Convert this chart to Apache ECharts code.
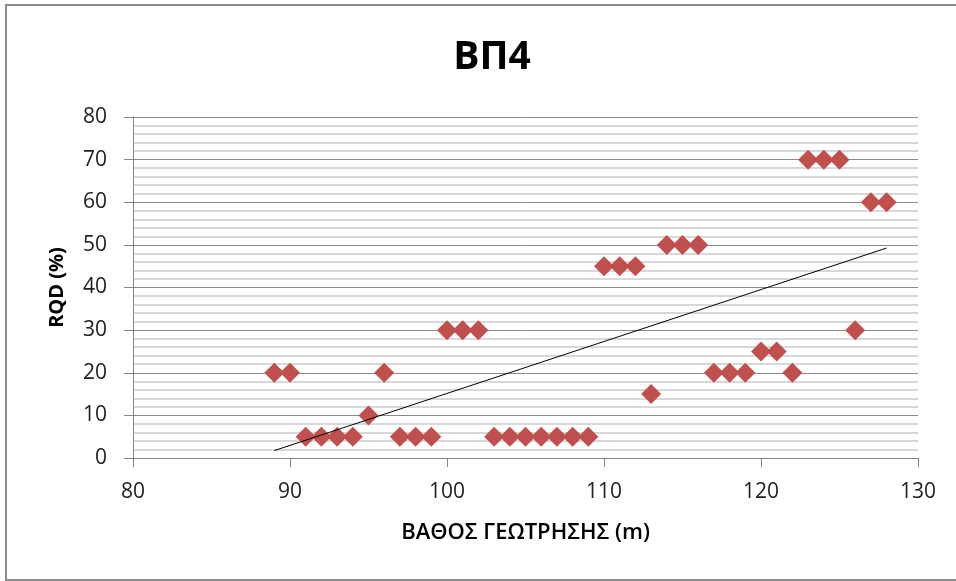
<!DOCTYPE html>
<html>
<head>
<meta charset="utf-8">
<script src="https://cdn.jsdelivr.net/npm/echarts@6/dist/echarts.min.js"></script>
<style>
html,body{margin:0;padding:0;background:#fff;}
#chart{width:956px;height:581px;}
</style>
</head>
<body>
<div id="chart"></div>
<script>
const depths = [89,90,91,92,93,94,95,96,97,98,99,100,101,102,103,104,105,106,107,108,109,110,111,112,113,114,115,116,117,118,119,120,121,122,123,124,125,126,127,128];
const rqd    = [20,20,5,5,5,5,10,20,5,5,5,30,30,30,5,5,5,5,5,5,5,45,45,45,15,50,50,50,20,20,20,25,25,20,70,70,70,30,60,60];
const xTicks = [80,90,100,110,120,130];
const yTicks = [0,10,20,30,40,50,60,70,80];

// least-squares linear trendline from the data
const n = depths.length;
const mx = depths.reduce((a,b)=>a+b,0)/n;
const my = rqd.reduce((a,b)=>a+b,0)/n;
let sxy=0, sxx=0;
for(let i=0;i<n;i++){sxy+=(depths[i]-mx)*(rqd[i]-my); sxx+=(depths[i]-mx)*(depths[i]-mx);}
const slope = sxy/sxx, intercept = my - slope*mx;
const x0 = Math.min(...depths), x1 = Math.max(...depths);
const trend = [[x0, intercept+slope*x0],[x1, intercept+slope*x1]];

const font = "'Open Sans','Noto Sans',sans-serif";
const chart = echarts.init(document.getElementById('chart'));
chart.setOption({
  animation:false,
  backgroundColor:'#fff',
  title:{text:'ΒΠ4',left:487,top:33,textAlign:'center',
    textStyle:{fontFamily:font,fontSize:39,fontWeight:'bold',color:'#000'}},
  graphic:[{type:'rect',shape:{x:6,y:5,width:960,height:575},
    style:{fill:'none',stroke:'#8c8c8c',lineWidth:2},silent:true}],
  grid:{left:133,right:38,top:117,bottom:123,containLabel:false},
  xAxis:{type:'value',min:80,max:130,interval:10,
    name:'ΒΑΘΟΣ ΓΕΩΤΡΗΣΗΣ (m)',nameLocation:'middle',nameGap:64,
    nameTextStyle:{fontFamily:font,fontSize:22,fontWeight:600,color:'#000'},
    axisLine:{show:true,onZero:false,lineStyle:{color:'#868686',width:1}},
    axisTick:{show:true,length:9,lineStyle:{color:'#868686'}},
    axisLabel:{fontFamily:font,fontSize:21,color:'#222',margin:24},
    splitLine:{show:false}},
  yAxis:{type:'value',min:0,max:80,interval:10,
    name:'RQD (%)',nameLocation:'middle',nameGap:66,nameRotate:90,
    nameTextStyle:{fontFamily:font,fontSize:20,fontWeight:'bold',color:'#000'},
    axisLine:{show:true,lineStyle:{color:'#868686',width:1}},
    axisTick:{show:true,length:9,lineStyle:{color:'#868686'}},
    axisLabel:{fontFamily:font,fontSize:21,color:'#222',margin:26},
    splitLine:{show:true,lineStyle:{color:'#8a8a8a',width:1}},
    minorTick:{show:false,splitNumber:5},
    minorSplitLine:{show:true,lineStyle:{color:'#cccccc',width:1.5}}},
  series:[
    {type:'scatter',data:depths.map((d,i)=>[d,rqd[i]]),symbol:'diamond',symbolSize:[20,20],
      itemStyle:{color:'#C0504D',opacity:1},z:2},
    {type:'line',data:trend,symbol:'none',lineStyle:{color:'#000',width:1},z:3,silent:true}
  ]
});
</script>
</body>
</html>
